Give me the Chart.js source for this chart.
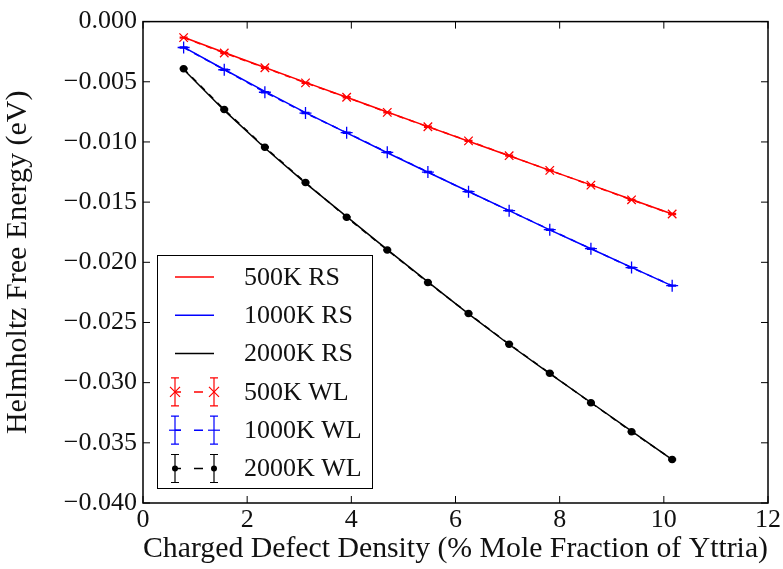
<!DOCTYPE html>
<html>
<head>
<meta charset="utf-8">
<title>Helmholtz Free Energy vs Defect Density</title>
<style>
    html, body { margin: 0; padding: 0; background: #fff; }
    #wrap { width: 783px; height: 569px; }
</style>
<script src="https://cdn.jsdelivr.net/npm/chart.js"></script>
</head>
<body>
<div id="wrap"><canvas id="chart" width="783" height="569"></canvas></div>
<script>
    // defect density (% mole fraction of yttria)
    const density = [0.78, 1.56, 2.34, 3.12, 3.91, 4.69, 5.47, 6.25, 7.03, 7.81, 8.60, 9.38, 10.16];

    // RS curves (solid)
    const rs500 = [-0.00130, -0.00257, -0.00381, -0.00505, -0.00628, -0.00751, -0.00873, -0.00994, -0.01115, -0.01236, -0.01357, -0.01478, -0.01598];
    const rs1000 = [-0.00212, -0.00398, -0.00580, -0.00757, -0.00925, -0.01090, -0.01252, -0.01412, -0.01571, -0.01730, -0.01887, -0.02042, -0.02196];
    const rs2000 = [-0.00398, -0.00738, -0.01050, -0.01342, -0.01620, -0.01894, -0.02163, -0.02428, -0.02683, -0.02925, -0.03165, -0.03402, -0.03640];

    // WL curves (dashed, with error bars)
    const wl500 = [-0.00133, -0.00261, -0.00384, -0.00509, -0.00629, -0.00754, -0.00874, -0.00991, -0.01114, -0.01236, -0.01359, -0.01481, -0.01599];
    const wl1000 = [-0.00215, -0.00400, -0.00587, -0.00760, -0.00923, -0.01086, -0.01250, -0.01413, -0.01571, -0.01729, -0.01887, -0.02044, -0.02194];
    const wl2000 = [-0.00391, -0.00731, -0.01044, -0.01337, -0.01626, -0.01898, -0.02167, -0.02426, -0.02680, -0.02922, -0.03167, -0.03407, -0.03638];
    const wl500err = [0.00005, 0.00005, 0.00005, 0.00005, 0.00005, 0.00005, 0.00005, 0.00005, 0.00005, 0.00005, 0.00005, 0.00005, 0.00005];
    const wl1000err = [0.00005, 0.00005, 0.00005, 0.00005, 0.00005, 0.00005, 0.00005, 0.00005, 0.00005, 0.00005, 0.00005, 0.00005, 0.00005];
    const wl2000err = [0.00005, 0.00005, 0.00005, 0.00005, 0.00005, 0.00005, 0.00005, 0.00005, 0.00005, 0.00005, 0.00005, 0.00005, 0.00005];

    const xTicks = [0, 2, 4, 6, 8, 10, 12];
    const yTicks = [0, -0.005, -0.010, -0.015, -0.020, -0.025, -0.030, -0.035, -0.040];

    const FONT = "'Liberation Serif', 'DejaVu Serif', serif";

    function pts(ys) {
        return density.map((x, i) => ({ x: x, y: ys[i] }));
    }

    function fmtY(v) {
        const s = Math.abs(v).toFixed(3);
        return v < -1e-9 ? '\u2212' + s : s;
    }

    // error bars for WL series
    const errorBars = {
        id: 'errorBars',
        afterDatasetsDraw(chart) {
            const ctx = chart.ctx;
            const ys = chart.scales.y;
            chart.data.datasets.forEach((ds, di) => {
                if (!ds.errors) return;
                const meta = chart.getDatasetMeta(di);
                ctx.save();
                ctx.strokeStyle = ds.borderColor;
                ctx.lineWidth = 1.2;
                meta.data.forEach((el, i) => {
                    const v = ds.data[i].y, e = ds.errors[i];
                    const y1 = ys.getPixelForValue(v + e), y2 = ys.getPixelForValue(v - e);
                    ctx.beginPath();
                    ctx.moveTo(el.x, y1); ctx.lineTo(el.x, y2);
                    ctx.moveTo(el.x - 4, y1); ctx.lineTo(el.x + 4, y1);
                    ctx.moveTo(el.x - 4, y2); ctx.lineTo(el.x + 4, y2);
                    ctx.stroke();
                });
                ctx.restore();
            });
        }
    };

    // frame with inward ticks on all sides
    const frame = {
        id: 'frame',
        afterDraw(chart) {
            const ctx = chart.ctx;
            const a = chart.chartArea;
            const xs = chart.scales.x, ys = chart.scales.y;
            ctx.save();
            ctx.strokeStyle = '#000';
            ctx.lineWidth = 1.5;
            ctx.strokeRect(a.left, a.top, a.right - a.left, a.bottom - a.top);
            ctx.lineWidth = 1;
            ctx.beginPath();
            xTicks.forEach(t => {
                const px = xs.getPixelForValue(t);
                ctx.moveTo(px, a.bottom); ctx.lineTo(px, a.bottom - 7);
                ctx.moveTo(px, a.top); ctx.lineTo(px, a.top + 7);
            });
            yTicks.forEach(t => {
                const py = ys.getPixelForValue(t);
                ctx.moveTo(a.left, py); ctx.lineTo(a.left + 7, py);
                ctx.moveTo(a.right, py); ctx.lineTo(a.right - 7, py);
            });
            ctx.stroke();
            ctx.restore();
        }
    };

    // legend drawn like the matplotlib one
    const legendBox = {
        id: 'legendBox',
        afterDraw(chart) {
            const ctx = chart.ctx;
            const rows = [
                { label: '500K RS', color: '#ff0000', kind: 'line' },
                { label: '1000K RS', color: '#0000ff', kind: 'line' },
                { label: '2000K RS', color: '#000000', kind: 'line' },
                { label: '500K WL', color: '#ff0000', kind: 'err', marker: 'x' },
                { label: '1000K WL', color: '#0000ff', kind: 'err', marker: '+' },
                { label: '2000K WL', color: '#000000', kind: 'err', marker: 'o' }
            ];
            const bx = 157, by = 255, bw = 215, bh = 233;
            ctx.save();
            ctx.fillStyle = '#fff';
            ctx.fillRect(bx, by, bw, bh);
            ctx.strokeStyle = '#000';
            ctx.lineWidth = 1;
            ctx.strokeRect(bx + 0.5, by + 0.5, bw, bh);
            ctx.font = '26px ' + FONT;
            ctx.textBaseline = 'middle';
            rows.forEach((r, i) => {
                const cy = 277 + i * 38.3;
                const x1 = 175, x2 = 214;
                ctx.strokeStyle = r.color;
                ctx.fillStyle = r.color;
                ctx.lineWidth = 1.5;
                if (r.kind === 'line') {
                    ctx.beginPath();
                    ctx.moveTo(x1, cy); ctx.lineTo(x2, cy);
                    ctx.stroke();
                } else {
                    ctx.beginPath();
                    ctx.moveTo(x1, cy); ctx.lineTo(x1 + 6, cy);
                    ctx.moveTo(x1 + 19, cy); ctx.lineTo(x1 + 28, cy);
                    ctx.stroke();
                    [x1, x2].forEach(mx => {
                        ctx.lineWidth = 1.2;
                        ctx.beginPath();
                        ctx.moveTo(mx, cy - 14); ctx.lineTo(mx, cy + 14);
                        ctx.moveTo(mx - 4, cy - 14); ctx.lineTo(mx + 4, cy - 14);
                        ctx.moveTo(mx - 4, cy + 14); ctx.lineTo(mx + 4, cy + 14);
                        ctx.stroke();
                        ctx.beginPath();
                        if (r.marker === 'x') {
                            ctx.moveTo(mx - 5, cy - 5); ctx.lineTo(mx + 5, cy + 5);
                            ctx.moveTo(mx - 5, cy + 5); ctx.lineTo(mx + 5, cy - 5);
                            ctx.stroke();
                        } else if (r.marker === '+') {
                            ctx.moveTo(mx - 6, cy); ctx.lineTo(mx + 6, cy);
                            ctx.stroke();
                        } else {
                            ctx.arc(mx, cy, 3, 0, Math.PI * 2);
                            ctx.fill();
                        }
                    });
                }
                ctx.fillStyle = '#111';
                ctx.fillText(r.label, 244, cy + 1);
            });
            ctx.restore();
        }
    };

    new Chart(document.getElementById('chart'), {
        type: 'scatter',
        data: {
            datasets: [
                { label: '500K RS', data: pts(rs500), showLine: true, borderColor: '#ff0000', borderWidth: 1.5, pointRadius: 0 },
                { label: '1000K RS', data: pts(rs1000), showLine: true, borderColor: '#0000ff', borderWidth: 1.5, pointRadius: 0 },
                { label: '2000K RS', data: pts(rs2000), showLine: true, borderColor: '#000000', borderWidth: 1.5, pointRadius: 0 },
                { label: '500K WL', data: pts(wl500), errors: wl500err, showLine: true, borderColor: '#ff0000', backgroundColor: '#ff0000', borderWidth: 1.5, borderDash: [6, 6], pointStyle: 'crossRot', pointRadius: 6, pointBorderWidth: 1.3 },
                { label: '1000K WL', data: pts(wl1000), errors: wl1000err, showLine: true, borderColor: '#0000ff', backgroundColor: '#0000ff', borderWidth: 1.5, borderDash: [6, 6], pointStyle: 'cross', pointRadius: 6, pointBorderWidth: 1.3 },
                { label: '2000K WL', data: pts(wl2000), errors: wl2000err, showLine: true, borderColor: '#000000', backgroundColor: '#000000', borderWidth: 1.5, borderDash: [6, 6], pointStyle: 'circle', pointRadius: 3 }
            ]
        },
        options: {
            responsive: false,
            animation: false,
            layout: { padding: { left: 0, top: 13, right: 14, bottom: 0 } },
            plugins: { legend: { display: false }, tooltip: { enabled: false } },
            scales: {
                x: {
                    type: 'linear', min: 0, max: 12,
                    grid: { display: false, drawTicks: false },
                    border: { display: false },
                    afterBuildTicks: s => { s.ticks = xTicks.map(v => ({ value: v })); },
                    afterFit: s => { s.height = 66; },
                    ticks: { color: '#111', font: { family: FONT, size: 26 }, padding: 2, maxRotation: 0 },
                    title: { display: true, text: 'Charged Defect Density (% Mole Fraction of Yttria)', color: '#111', font: { family: FONT, size: 30 }, padding: { top: 0, bottom: 2 } }
                },
                y: {
                    type: 'linear', min: -0.04, max: 0,
                    grid: { display: false, drawTicks: false },
                    border: { display: false },
                    afterBuildTicks: s => { s.ticks = yTicks.map(v => ({ value: v })); },
                    afterFit: s => { s.width = 143; },
                    ticks: { color: '#111', font: { family: FONT, size: 26 }, padding: 6, callback: v => fmtY(v) },
                    title: { display: true, text: 'Helmholtz Free Energy (eV)', color: '#111', font: { family: FONT, size: 30 }, padding: { top: 0, bottom: 6 } }
                }
            }
        },
        plugins: [errorBars, frame, legendBox]
    });
</script>
</body>
</html>
